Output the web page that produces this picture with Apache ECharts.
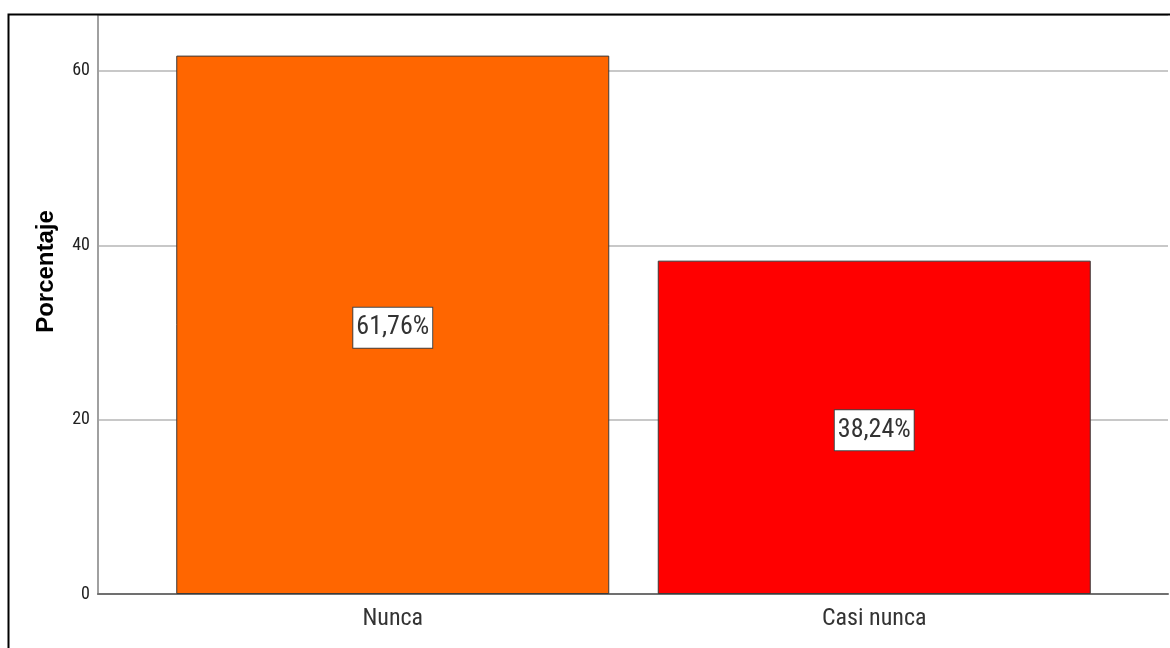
<!DOCTYPE html>
<html><head><meta charset="utf-8">
<script src="https://cdn.jsdelivr.net/npm/echarts@6/dist/echarts.min.js"></script>
<style>html,body{margin:0;padding:0;background:#fff}#c{width:1170px;height:648px}</style>
</head><body><div id="c"></div>
<script>
const categories = ['Nunca', 'Casi nunca'];
const values = [61.76, 38.24];
const labels = ['61,76%', '38,24%'];
const yTicks = [0, 20, 40, 60];
const colors = ['#FF6600', '#FF0000'];

const YMAX = 66.42;
const chart = echarts.init(document.getElementById('c'), null, {renderer: 'canvas'});
const narrow = '"Roboto Condensed", "Liberation Sans Narrow", sans-serif';
chart.setOption({
  animation: false,
  backgroundColor: '#fff',
  grid: [
    {left: 98, right: 2, top: 15, bottom: 54},
    {left: 152, right: 55, top: 15, bottom: 54}
  ],
  xAxis: [
    {gridIndex: 0, type: 'category', data: ['', ''], axisLine: {show: true, lineStyle: {color: '#707070', width: 2}},
      axisTick: {show: false}, axisLabel: {show: false}, splitLine: {show: false}},
    {gridIndex: 1, type: 'category', data: categories, axisLine: {show: false}, axisTick: {show: false},
      axisLabel: {fontFamily: narrow, fontSize: 24, color: '#333', margin: 13}}
  ],
  yAxis: [
    {gridIndex: 0, type: 'value', min: 0, max: YMAX, interval: 20,
      name: 'Porcentaje', nameLocation: 'middle', nameGap: 40, nameRotate: 90,
      nameTextStyle: {fontFamily: '"Liberation Sans", Arial, sans-serif', fontWeight: 'bold', fontSize: 24, color: '#000',
        padding: [0, 0, 0, 66]},
      axisLine: {show: true, lineStyle: {color: '#a0a0a0', width: 2}}, axisTick: {show: false},
      axisLabel: {fontFamily: narrow, fontSize: 18, color: '#222', margin: 8,
        formatter: v => yTicks.includes(Math.round(v * 100) / 100) ? String(v) : ''},
      splitLine: {show: true, lineStyle: {color: '#c8c8c8', width: 2}}},
    {gridIndex: 1, type: 'value', min: 0, max: YMAX, interval: 20, show: false, splitLine: {show: false}}
  ],
  series: [{
    type: 'bar', xAxisIndex: 1, yAxisIndex: 1, barWidth: 433,
    data: values.map((v, i) => ({value: v, itemStyle: {color: colors[i]}})),
    itemStyle: {borderColor: '#3a3a3a', borderWidth: 1},
    label: {show: true, position: 'inside', offset: [0, 3], formatter: p => labels[p.dataIndex],
      fontFamily: narrow, fontSize: 26, lineHeight: 30, color: '#333', backgroundColor: '#fff',
      borderColor: '#444', borderWidth: 1, padding: [5, 3, 5, 3]}
  }],
  graphic: [{type: 'rect', shape: {x: 8.5, y: 14.5, width: 1300, height: 800},
    style: {fill: 'none', stroke: '#000', lineWidth: 2}, z: 100}]
});
</script></body></html>
